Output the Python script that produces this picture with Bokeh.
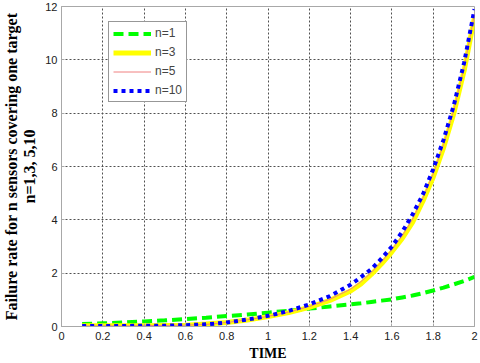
from bokeh.plotting import figure
from bokeh.models import Legend, LegendItem, Range1d, FixedTicker
from bokeh.embed import file_html
from bokeh.resources import INLINE

# ---- data ----
t = [0.1, 0.2, 0.3, 0.4, 0.5, 0.6, 0.7, 0.8, 0.9, 1.0, 1.1, 1.2, 1.3, 1.4,
     1.45, 1.5, 1.55, 1.6, 1.65, 1.7, 1.75, 1.8, 1.85, 1.9, 1.95, 2.0]
n1 = [0.09, 0.12, 0.15, 0.19, 0.23, 0.28, 0.33, 0.39, 0.45, 0.52, 0.59, 0.67, 0.75, 0.83,
      0.87, 0.92, 0.97, 1.02, 1.09, 1.16, 1.25, 1.35, 1.46, 1.58, 1.71, 1.86]
n3 = [0.03, 0.03, 0.03, 0.03, 0.04, 0.05, 0.09, 0.15, 0.24, 0.37, 0.52, 0.72, 0.98, 1.33,
      1.6, 1.95, 2.35, 2.8, 3.3, 3.9, 4.7, 5.6, 6.7, 8.0, 9.6, 11.6]
n5 = [0.02, 0.02, 0.02, 0.03, 0.04, 0.05, 0.08, 0.15, 0.25, 0.38, 0.54, 0.75, 1.02, 1.4,
      1.68, 2.02, 2.42, 2.88, 3.4, 4.02, 4.82, 5.72, 6.82, 8.12, 9.72, 11.72]
n10 = [0.02, 0.02, 0.02, 0.03, 0.03, 0.05, 0.08, 0.15, 0.26, 0.40, 0.58, 0.83, 1.14, 1.57,
       1.85, 2.15, 2.55, 3.0, 3.55, 4.2, 4.95, 5.9, 7.0, 8.3, 9.9, 11.9]

x_ticks = [0, 0.2, 0.4, 0.6, 0.8, 1.0, 1.2, 1.4, 1.6, 1.8, 2.0]
x_tick_labels = ["0", "0.2", "0.4", "0.6", "0.8", "1", "1.2", "1.4", "1.6", "1.8", "2"]
y_ticks = [0, 2, 4, 6, 8, 10, 12]
series_labels = ["n=1", "n=3", "n=5", "n=10"]
x_label = "TIME"
y_label = "Failure rate for n sensors covering one target\nn=1,3, 5,10"

p = figure(width=480, height=363, output_backend="svg", toolbar_location=None,
           x_range=Range1d(0, 2), y_range=Range1d(0, 12),
           min_border_left=60, min_border_right=6, min_border_top=6, min_border_bottom=37)
p.background_fill_color = "white"
p.border_fill_color = "white"
p.outline_line_color = "#a8a8a8"
p.outline_line_width = 1

r1 = p.line(t, n1, line_color="#00ff00", line_width=4, line_dash="10 5")
r3 = p.line(t, n3, line_color="#ffff00", line_width=5)
r5 = p.line(t, n5, line_color="#f08080", line_width=1)
r10 = p.line(t, n10, line_color="#0000ff", line_width=4, line_dash="4 4")

p.xaxis.ticker = FixedTicker(ticks=x_ticks)
p.xaxis.major_label_overrides = {tk: lb for tk, lb in zip(x_ticks, x_tick_labels)}
p.yaxis.ticker = FixedTicker(ticks=y_ticks)

for ax in (p.xaxis[0], p.yaxis[0]):
    ax.axis_line_color = "#a8a8a8"
    ax.major_tick_line_color = "#a8a8a8"
    ax.major_tick_in = 3
    ax.major_tick_out = 0
    ax.minor_tick_line_color = None
    ax.major_label_text_font = "Liberation Sans"
    ax.major_label_text_font_size = "11px"
    ax.major_label_text_color = "#202020"
    ax.axis_label_text_font = "Liberation Serif"
    ax.axis_label_text_font_style = "bold"
    ax.axis_label_text_color = "black"

p.xaxis.axis_label = x_label
p.xaxis.axis_label_text_font_size = "14px"
p.xaxis.major_label_standoff = 5
p.xaxis.axis_label_standoff = 3
p.yaxis.axis_label = y_label
p.yaxis.axis_label_text_font_size = "16px"
p.yaxis.major_label_standoff = 4
p.yaxis.axis_label_standoff = 4
p.yaxis.axis_label_text_line_height = 1.05

p.grid.grid_line_color = "#505050"
p.grid.grid_line_dash = "2 2"
p.grid.grid_line_width = 1

legend = Legend(items=[LegendItem(label=series_labels[0], renderers=[r1]),
                       LegendItem(label=series_labels[1], renderers=[r3]),
                       LegendItem(label=series_labels[2], renderers=[r5]),
                       LegendItem(label=series_labels[3], renderers=[r10])],
                location=(47, 224))
legend.label_text_font = "Liberation Sans"
legend.label_text_font_size = "12px"
legend.glyph_width = 38
legend.glyph_height = 13
legend.label_height = 13
legend.label_standoff = 4
legend.spacing = 5
legend.padding = 4
legend.margin = 0
legend.border_line_color = "#303030"
legend.border_line_width = 1
legend.background_fill_color = "white"
legend.background_fill_alpha = 1
p.add_layout(legend)

open("out.html", "w").write(file_html(p, INLINE))
